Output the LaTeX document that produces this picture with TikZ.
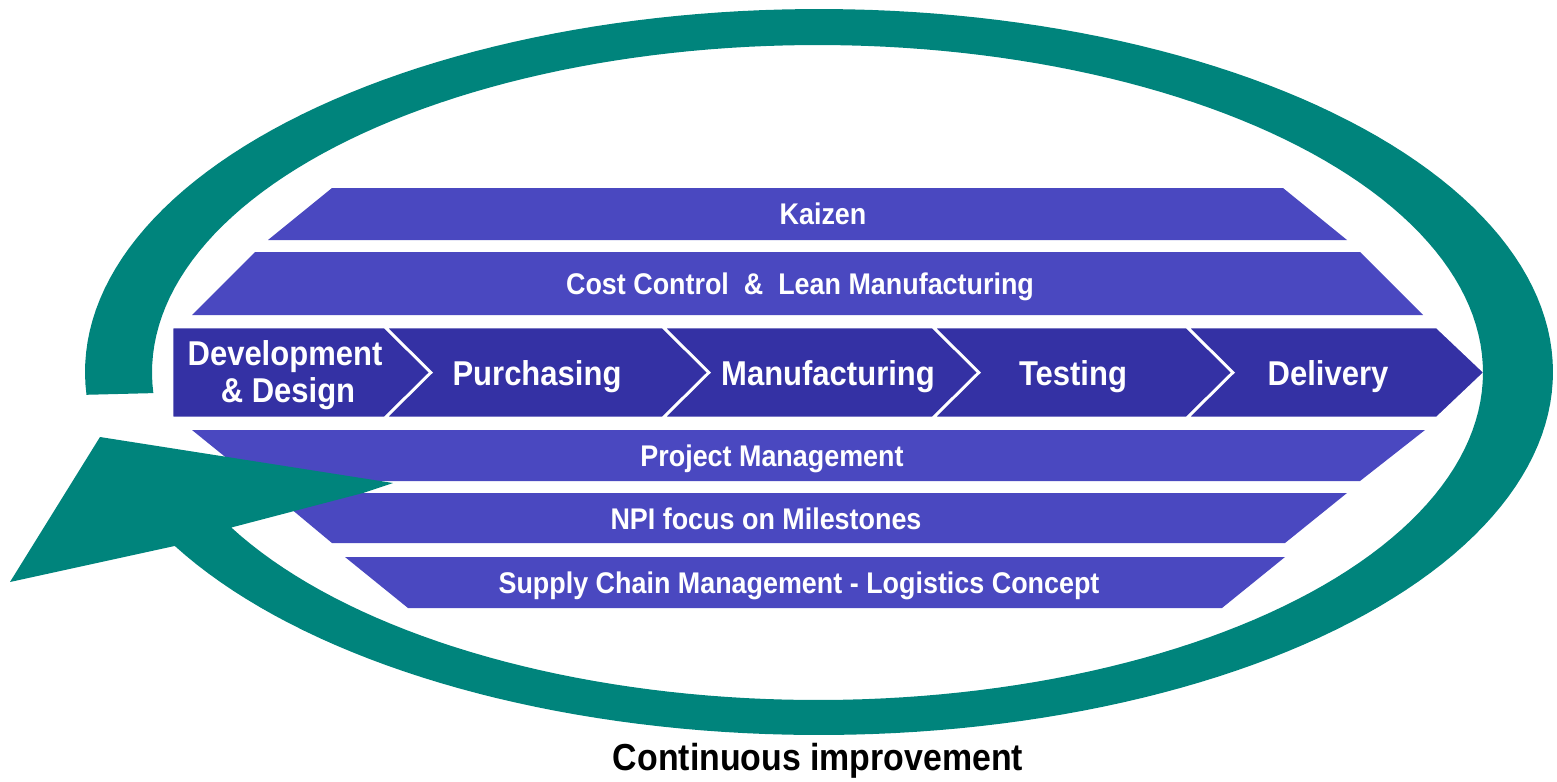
\documentclass[tikz,border=0pt]{standalone}
\usepackage{fontspec}
\setmainfont{Liberation Sans}[FakeStretch=0.9]
\definecolor{ringteal}{RGB}{0,132,124}
\definecolor{bandblue}{RGB}{74,72,192}
\definecolor{chevblue}{RGB}{52,49,164}
\begin{document}
\begin{tikzpicture}[x=0.01cm,y=-0.01cm,
  band/.style={fill=bandblue},
  chev/.style={fill=chevblue, draw=white, line width=0.8pt, line join=miter},
  btxt/.style={text=white, font=\fontsize{8.5}{10}\selectfont\bfseries, anchor=base, inner sep=0pt},
  ctxt/.style={text=white, font=\fontsize{9.8}{12}\selectfont\bfseries, anchor=base, inner sep=0pt},
  ttxt/.style={text=black, font=\fontsize{10.7}{13}\selectfont\bfseries, anchor=base, inner sep=0pt}]
\useasboundingbox (0,0) rectangle (1557,781);
% bands
\fill[band] (332,188) -- (1283,188) -- (1347,240) -- (268,240) -- cycle;
\fill[band] (255,252) -- (1360,252) -- (1423,315) -- (192,315) -- cycle;
\fill[band] (192,430) -- (1425,430) -- (1360,481) -- (255,481) -- cycle;
\fill[band] (272,493) -- (1347,493) -- (1285,543) -- (332,543) -- cycle;
\fill[band] (345,557) -- (1285,557) -- (1222,608) -- (408,608) -- cycle;
% chevrons
\path[chev] (172,327) -- (385,327) -- (431,372.5) -- (385,418) -- (172,418) -- cycle;
\path[chev] (385,327) -- (663,327) -- (709,372.5) -- (663,418) -- (385,418) -- (431,372.5) -- cycle;
\path[chev] (663,327) -- (933,327) -- (979,372.5) -- (933,418) -- (663,418) -- (709,372.5) -- cycle;
\path[chev] (933,327) -- (1187,327) -- (1233,372.5) -- (1187,418) -- (933,418) -- (979,372.5) -- cycle;
\path[chev] (1187,327) -- (1437,327) -- (1485,372.5) -- (1437,418) -- (1187,418) -- (1233,372.5) -- cycle;
% continuous improvement loop
\fill[ringteal] plot[domain=0:1, samples=200] ({819+734*cos(176.4+\x*(511.7-176.4))},{372+363*sin(176.4+\x*(511.7-176.4))})
  -- (10,582) -- (100,437) -- (393,483) -- (363,493)
  -- plot[domain=0:1, samples=200] ({817.5+665.5*cos(511.75-\x*(511.75-176.06))},{372.5+327.5*sin(511.75-\x*(511.75-176.06))})
  -- cycle;
% texts
\node[btxt] (kaizen) at (823,224) {Kaizen};
\node[btxt] (cost) at (800,294) {Cost Control\ \ \& \ Lean Manufacturing};
\node[btxt] (pm) at (772,466) {Project Management};
\node[btxt] (npi) at (766,529) {NPI focus on Milestones};
\node[btxt] (scm) at (799,593) {Supply Chain Management - Logistics Concept};
\node[ctxt] (dev) at (285,365) {Development};
\node[ctxt] (devb) at (288,402) {\& Design};
\node[ctxt] (pur) at (537,385) {Purchasing};
\node[ctxt] (man) at (828,385) {Manufacturing};
\node[ctxt] (tes) at (1073,385) {Testing};
\node[ctxt] (del) at (1328,385) {Delivery};
\node[ttxt] (ci) at (818,770) {Continuous improvement};
\end{tikzpicture}
\end{document}
